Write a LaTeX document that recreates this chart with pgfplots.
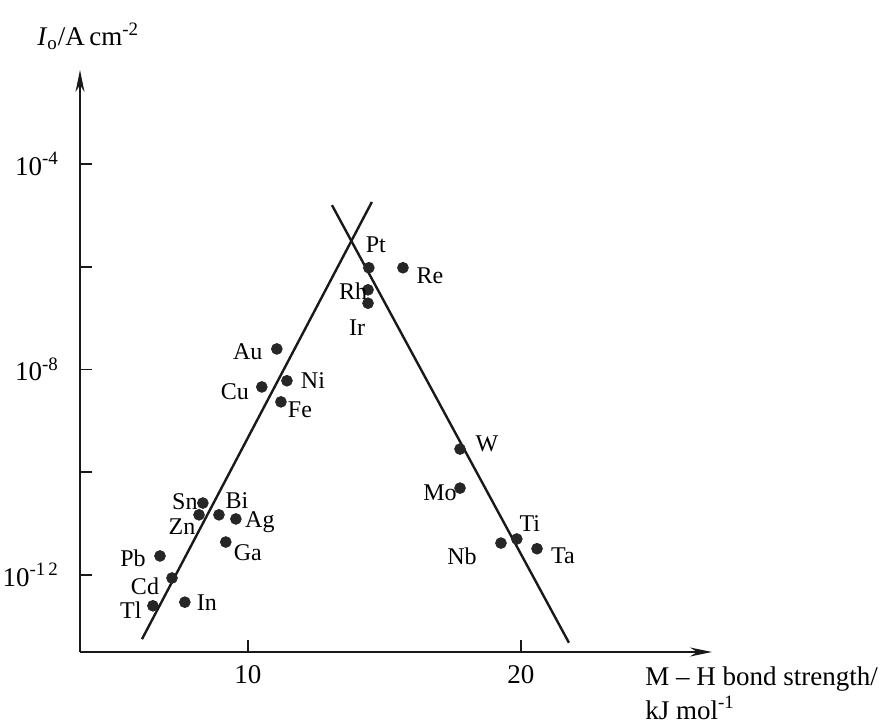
\documentclass[border=0pt]{standalone}
\usepackage{pgfplots}
\pgfplotsset{compat=1.18}
\usepackage{pgfplotstable}
\usepackage{fontspec}
\setmainfont{Liberation Serif}
\usetikzlibrary{arrows.meta}

\pgfplotstableread{
x      y         dx     dy     name
11.06  2.51e-8   -14.5  -1.5   Au
10.51  4.57e-9   -13.5  -2.5   Cu
11.43  6.03e-9    13.0   0.0   Ni
11.21  2.34e-9    9.5   -4.0   Fe
8.35   2.51e-11  -9.0    0.5   Sn
8.94   1.48e-11   9.0    7.0   Bi
8.21   1.48e-11  -8.5   -6.0   Zn
9.56   1.23e-11   12.0  -1.5   Ag
9.19   4.37e-12   11.0  -5.5   Ga
6.78   2.34e-12  -13.5  -1.0   Pb
7.22   8.71e-13  -13.5  -4.0   Cd
6.52   2.51e-13  -11.0  -2.0   Tl
7.69   2.95e-13   11.0   0.0   In
14.43  9.55e-7    3.5   11.5   Pt
15.68  9.55e-7    13.5  -4.0   Re
14.40  3.55e-7   -7.5   -0.5   Rh
14.40  1.95e-7   -5.5  -12.0   Ir
17.77  2.82e-10   13.5   2.5   W
17.77  4.90e-11  -10.0  -2.5   Mo
19.85  5.01e-12   6.5    7.5   Ti
19.27  4.17e-12  -19.5  -6.5   Nb
20.59  3.24e-12   13.0  -3.5   Ta
}\metals

\begin{document}
\begin{tikzpicture}
\path[use as bounding box] (0,0) rectangle (442pt,363.5pt);
\begin{axis}[
  at={(40pt,37.5pt)}, anchor=south west,
  scale only axis, width=316pt, height=291pt,
  ymode=log,
  xmin=3.85, xmax=27.0, ymin=3.16e-14, ymax=6.76e-3,
  axis lines=left,
  axis line style={line width=0.9pt, black!90, -{Stealth[length=11pt,width=4.5pt]}},
  xtick={10,20}, xticklabels={10,20},
  ytick={1e-12,1e-10,1e-8,1e-6,1e-4},
  yticklabels={10\textsuperscript{-1\,2},,10\textsuperscript{-8},,10\textsuperscript{-4}},
  minor ytick={}, yminorticks=false, xminorticks=false,
  tick align=inside, major tick length=6pt,
  tick style={line width=0.8pt, black!90},
  ticklabel style={font=\fontsize{13.5}{16}\selectfont},
  yticklabel style={xshift=-7pt},
  xticklabel style={yshift=-3pt},
  clip=false,
]
\addplot[line width=1.2pt, black!90] coordinates {(6.12,5.62e-14) (14.54,1.82e-5)};
\addplot[line width=1.2pt, black!90] coordinates {(13.08,1.58e-5) (21.76,4.79e-14)};
\addplot[only marks, mark=*, mark size=2.7pt, color=black!85,
  nodes near coords, point meta=explicit symbolic,
  nodes near coords align={center},
  visualization depends on={\thisrow{dx} \as \dx},
  visualization depends on={\thisrow{dy} \as \dy},
  every node near coord/.append style={anchor=center, xshift={\dx pt}, yshift={\dy pt},
     font=\fontsize{12}{14}\selectfont, text=black, inner sep=0pt}]
  table[x=x, y=y, meta=name] {\metals};
\node[anchor=west, inner sep=0pt, font=\fontsize{13.5}{16}\selectfont] at (rel axis cs:-0.068,1.058)
  {\textit{I}\textsubscript{o}/A\,cm\textsuperscript{-2}};
\node[anchor=north west, inner sep=0pt, align=left, font=\fontsize{13.5}{16}\selectfont] at (rel axis cs:0.894,-0.024)
  {M -- H bond strength/\\[1pt]kJ mol\textsuperscript{-1}};
\end{axis}
\end{tikzpicture}
\end{document}
